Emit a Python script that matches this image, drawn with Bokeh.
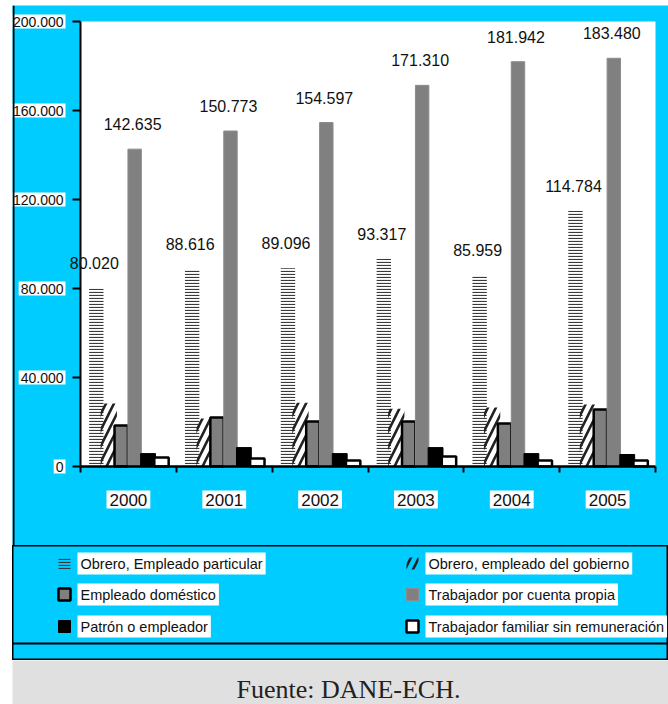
from bokeh.plotting import figure
from bokeh.models import (Range1d, FixedTicker, Label, LabelSet, ColumnDataSource, Span,
                          BoxAnnotation)
from bokeh.layouts import column
from bokeh.embed import file_html
from bokeh.resources import INLINE
from bokeh.core.properties import value
from bokeh.transform import dodge

# ---------------- data ----------------
years = ["2000", "2001", "2002", "2003", "2004", "2005"]
obrero_particular = [80020, 88616, 89096, 93317, 85959, 114784]
obrero_gobierno = [28300, 21600, 28700, 26000, 26500, 27900]
empleado_domestico = [18400, 22000, 20200, 20200, 19300, 25600]
cuenta_propia = [142635, 150773, 154597, 171310, 181942, 183480]
patron = [5800, 8500, 5800, 8500, 5800, 5400]
familiar = [4000, 3600, 2700, 4500, 2700, 2700]
series_names = [
    "Obrero, Empleado particular",
    "Obrero, empleado del gobierno",
    "Empleado doméstico",
    "Trabajador por cuenta propia",
    "Patrón o empleador",
    "Trabajador familiar sin remuneración",
]
y_ticks = [0, 40000, 80000, 120000, 160000, 200000]
y_max = 200000
source_note = "Fuente: DANE-ECH."

CYAN = "#00CCFF"
FONT = "Liberation Sans"

# ---------------- layout geometry (pixels) ----------------
W = 656            # block width
CH_H = 540         # chart block height
PLOT_L, PLOT_R = 68, 13     # margins around the plotting area inside the chart block
PLOT_T, PLOT_B = 16, 79
LG_H = 115
FT_H = 44


def fmt(v):
    return f"{v:,}".replace(",", ".")


def set_if(model, name, val):
    if name in model.properties():
        setattr(model, name, val)


series_values = [obrero_particular, obrero_gobierno, empleado_domestico,
                 cuenta_propia, patron, familiar]
offsets = [-0.335, -0.205, -0.075, 0.065, 0.205, 0.345]
widths = [0.15, 0.17, 0.14, 0.14, 0.155, 0.15]
styles = [
    dict(fill_color=None, line_color=None, hatch_pattern="horizontal_line",
         hatch_scale=3, hatch_weight=1.2, hatch_color="#3a3a3a"),
    dict(fill_color=None, line_color=None, hatch_pattern="right_diagonal_line",
         hatch_scale=16, hatch_weight=2.6, hatch_color="#222222"),
    dict(fill_color="#7f7f7f", line_color="black", line_width=2.5),
    dict(fill_color="#808080", line_color="#8c8c8c", line_width=1),
    dict(fill_color="black", line_color="black", line_width=1),
    dict(fill_color="white", line_color="black", line_width=2.5),
]

n = len(years)
per_cat = n / (W - PLOT_L - PLOT_R)
per_px = y_max / (CH_H - PLOT_T - PLOT_B)
centers = [i + 0.5 for i in range(n)]
data = {"x": centers, "year": years}
for k, vals in enumerate(series_values):
    data[f"s{k}"] = vals
    data[f"l{k}"] = [fmt(v) for v in vals]
src = ColumnDataSource(data)

# ---------------- chart (frame = whole block, axes fixed at 0) ----------------
x_start = -PLOT_L * per_cat
p = figure(width=W, height=CH_H,
           x_range=Range1d(x_start, n + PLOT_R * per_cat),
           y_range=Range1d(-PLOT_B * per_px, y_max + PLOT_T * per_px),
           toolbar_location=None, output_backend="svg", min_border=0,
           background_fill_color=CYAN, border_fill_color=CYAN, outline_line_color=None)
p.grid.visible = False
p.add_layout(BoxAnnotation(left=0, right=n, bottom=0, top=y_max, fill_color="white",
                           fill_alpha=1, line_color=None, level="underlay"))

for k in range(6):
    p.vbar(x=dodge("x", offsets[k]), top=f"s{k}", width=widths[k], bottom=0,
           source=src, **styles[k])

yax = p.yaxis[0]
yax.fixed_location = 0
yax.bounds = (0, y_max)
yax.ticker = FixedTicker(ticks=y_ticks, minor_ticks=[])
yax.major_label_overrides = {t: "" for t in y_ticks}
yax.axis_line_width = 2
yax.axis_line_color = "black"
yax.major_tick_out = 8
yax.major_tick_in = 0
yax.major_tick_line_width = 2
yax.major_label_standoff = 0
yax.major_label_text_font_size = "0px"

xax = p.xaxis[0]
xax.fixed_location = 0
xax.bounds = (0, n)
xax.ticker = FixedTicker(ticks=centers, minor_ticks=list(range(n + 1)))
xax.major_label_overrides = {c: "" for c in centers}
xax.axis_line_width = 2.5
xax.axis_line_color = "black"
xax.major_tick_out = 0
xax.major_tick_in = 0
xax.minor_tick_out = 6
xax.minor_tick_in = 0
xax.minor_tick_line_width = 2
xax.minor_tick_line_color = "black"
xax.major_label_standoff = 0
xax.major_label_text_font_size = "0px"

# value labels above bars
for k in (0, 3):
    p.add_layout(LabelSet(x=dodge("x", offsets[k]), y=f"s{k}", text=f"l{k}", source=src,
                          x_offset=-2, text_align="center", text_baseline="bottom",
                          y_offset=19, text_font=value(FONT), text_font_size="16px",
                          text_color="#111111"))

# tick labels in white boxes, placed on the axis scales
for t in y_ticks:
    lab = Label(x=0, y=t, x_offset=-15, text=fmt(t), text_align="right",
                text_baseline="middle", text_font=FONT, text_font_size="14px",
                text_color="#111111", background_fill_color="white")
    set_if(lab, "padding", 2)
    p.add_layout(lab)
for c, yr in zip(centers, years):
    lab = Label(x=c, y=0, y_offset=-33, text=yr, text_align="center",
                text_baseline="middle", text_font=FONT, text_font_size="17px",
                text_color="#111111", background_fill_color="white")
    set_if(lab, "padding", 3)
    p.add_layout(lab)

# left edge line of the cyan panel
p.add_layout(Span(location=x_start + 1 * per_cat, dimension="height",
                  line_color="black", line_width=2))

# ---------------- legend strip ----------------
lg = figure(width=W, height=LG_H, x_range=Range1d(0, W), y_range=Range1d(LG_H, 0),
            toolbar_location=None, output_backend="svg", min_border=0,
            x_axis_location=None, y_axis_location=None,
            background_fill_color=CYAN, border_fill_color=CYAN,
            outline_line_color="black", outline_line_width=2)
lg.grid.visible = False
lg.add_layout(Span(location=98, dimension="width", line_color="black", line_width=2))

col_x = [52, 400]
row_y = [18, 49, 81]
order = [0, 2, 4, 1, 3, 5]
for pos, k in enumerate(order):
    cx = col_x[pos // 3]
    cy = row_y[pos % 3]
    lg.rect(x=[cx], y=[cy], width=12, height=12, **styles[k])
    lab = Label(x=cx + 13, y=cy, text=series_names[k], text_baseline="middle",
                text_align="left", text_font=FONT, text_font_size="14.5px",
                text_color="#111111", background_fill_color="white")
    set_if(lab, "padding", 3)
    lg.add_layout(lab)

# ---------------- footer ----------------
ft = figure(width=W, height=FT_H, x_range=Range1d(0, W), y_range=Range1d(FT_H, 0),
            toolbar_location=None, output_backend="svg", min_border=0,
            x_axis_location=None, y_axis_location=None,
            background_fill_color="#E0E0E0", border_fill_color="#E0E0E0",
            outline_line_color=None)
ft.grid.visible = False
ft.add_layout(Label(x=336, y=29, text=source_note, text_align="center",
                    text_baseline="middle", text_font="Liberation Serif",
                    text_font_size="26px", text_color="#222222"))

for f in (p, lg, ft):
    set_if(f, "frame_align", False)

layout = column(p, lg, ft, spacing=0)
set_if(layout, "margin", (5, 0, 0, 12))
open("out.html", "w").write(file_html(layout, INLINE))
